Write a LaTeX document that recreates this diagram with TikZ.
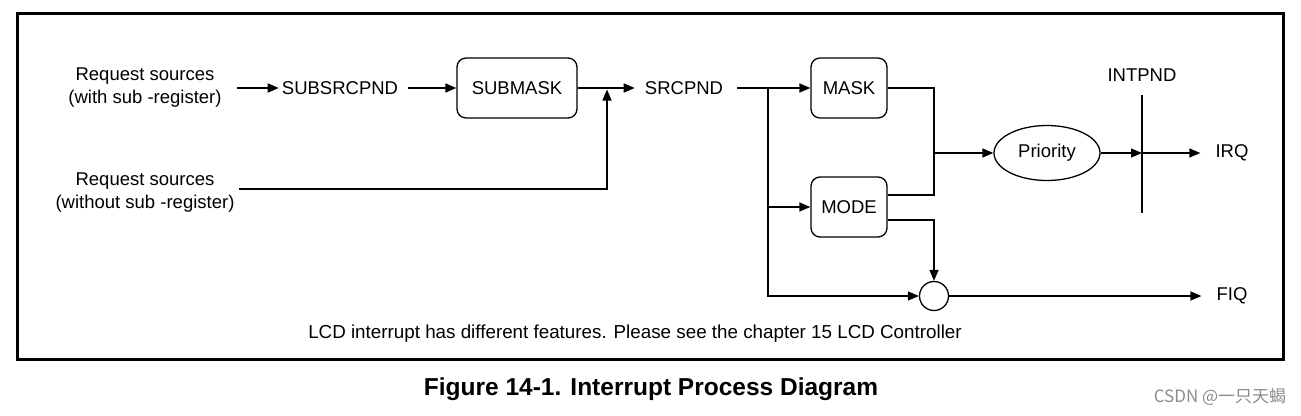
\documentclass[tikz,border=0pt]{standalone}
\usepackage{fontspec}
\setmainfont{Liberation Sans}
\newfontfamily\cjk{Noto Sans CJK SC}
\usetikzlibrary{arrows.meta,shapes.geometric,calc}
\begin{document}
\begin{tikzpicture}[x=1pt,y=-1pt,
  lbl/.style={font=\fontsize{18.5}{23}\selectfont, inner sep=0pt, align=center},
  regbox/.style={draw, rounded corners=9pt, minimum height=60pt, line width=1.3pt, inner sep=0pt, font=\fontsize{18.5}{22}\selectfont},
  conn/.style={line width=1.4pt},
  arr/.style={conn, -{Triangle[length=11pt,width=9pt]}},
]
\useasboundingbox (0,0) rectangle (1301,415);
\draw[line width=3pt] (17,13) rectangle (1283,359);

% nodes
\node[lbl] (rs1) at (145,88) {Request sources\\(with sub -register)};
\node[lbl] (rs2) at (145,193) {Request sources\\(without sub -register)};
\node[lbl] (subsrc) at (340,88) {SUBSRCPND};
\node[regbox, minimum width=120pt] (submask) at (517,88) {SUBMASK};
\node[lbl] (srcpnd) at (684,88) {SRCPND};
\node[regbox, minimum width=76pt] (mask) at (849,88) {MASK};
\node[regbox, minimum width=76pt] (mode) at (849,207) {MODE};
\node[draw, ellipse, line width=1.3pt, minimum width=106pt, minimum height=55pt, inner sep=0pt, font=\fontsize{18.5}{22}\selectfont] (prio) at (1047,153) {Priority};
\node[draw, circle, line width=1.3pt, minimum size=29pt, inner sep=0pt] (or) at (934,296) {};
\node[lbl] (intpnd) at (1142,75) {INTPND};
\node[lbl] (irq) at (1232,153) {IRQ};
\node[lbl] (fiq) at (1232,296) {FIQ};
\node[lbl, font=\fontsize{18.8}{23}\selectfont] (note) at (635,334) {LCD interrupt has different features. Please see the chapter 15 LCD Controller};
\node[font=\bfseries\fontsize{24.5}{28}\selectfont, inner sep=0pt] (cap) at (651,389) {Figure 14-1. Interrupt Process Diagram};
\node[font=\cjk\fontsize{17}{19}\selectfont, text=black!45, inner sep=0pt] (wm) at (1220,397) {CSDN @一只天蝎};

% coordinates
\coordinate (w2) at (239,189);
\coordinate (j1) at (607,88);
\coordinate (b) at (768,88);
\coordinate (mx) at (934,153);
\coordinate (ip) at (1142,153);
\coordinate (it1) at (1142,95);
\coordinate (it2) at (1142,213);

% connectors
\draw[arr] ([xshift=15pt]rs1.east) -- ([xshift=-3pt]subsrc.west);
\draw[arr] ([xshift=10pt]subsrc.east) -- (submask.west);
\draw[arr] (submask.east) -- ([xshift=-10pt]srcpnd.west);
\draw[arr] (w2) -| ([yshift=-1.5pt]j1);
\draw[conn] ([xshift=14pt]srcpnd.east) -- (b);
\draw[arr] (b) -- (mask.west);
\draw[arr] (b) |- (mode.west);
\draw[arr] (b) |- (or.west);
\draw[conn] (mask.east) -| (mx);
\draw[conn] ([yshift=12pt]mode.east) -| (mx);
\draw[arr] (mx) -- (prio.west);
\draw[arr] ([yshift=-13pt]mode.east) -| (or.north);
\draw[conn] (it1) -- (it2);
\draw[arr] (prio.east) -- (ip);
\draw[arr] (ip) -- ([xshift=-15pt]irq.west);
\draw[arr] (or.east) -- ([xshift=-15pt]fiq.west);
\end{tikzpicture}
\end{document}
